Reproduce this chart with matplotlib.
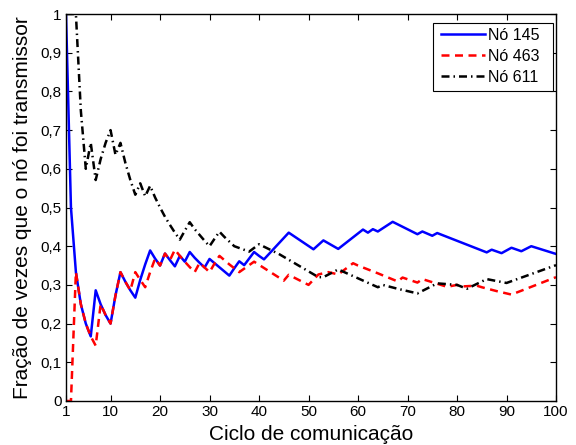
import matplotlib
matplotlib.use("Agg")
import matplotlib.pyplot as plt
from matplotlib.patches import Rectangle
from matplotlib.ticker import FixedLocator, FuncFormatter

plt.rcParams['font.family'] = ['Liberation Sans', 'DejaVu Sans']

# Nó 145
x145 = [1, 2, 3, 4, 5, 6, 7, 8, 9, 10, 11, 12, 13, 14, 15, 16, 17, 18, 19, 20,
        21, 22, 23, 24, 25, 26, 27, 28, 29, 30, 34, 35, 36, 37, 38, 39, 40, 41,
        46, 51, 53, 56, 61, 62, 63, 64, 67, 72, 73, 75, 76, 86, 87, 89, 91, 93, 95, 100]
y145 = [1.0, 0.5, 0.333, 0.25, 0.2, 0.167, 0.286, 0.25, 0.222, 0.2, 0.273, 0.333,
        0.308, 0.286, 0.267, 0.313, 0.353, 0.389, 0.368, 0.35, 0.381, 0.364, 0.348,
        0.375, 0.36, 0.385, 0.37, 0.357, 0.345, 0.367, 0.324, 0.343, 0.361, 0.351,
        0.368, 0.385, 0.375, 0.366, 0.435, 0.392, 0.415, 0.393, 0.443, 0.435, 0.444,
        0.438, 0.463, 0.431, 0.438, 0.427, 0.434, 0.384, 0.391, 0.382, 0.396, 0.387,
        0.4, 0.38]

# Nó 463
x463 = [1, 2, 3, 4, 5, 6, 7, 8, 9, 10, 11, 12, 13, 14, 15, 16, 17, 18, 19, 20,
        21, 22, 23, 24, 25, 26, 27, 28, 29, 30, 31, 32, 33, 34, 35, 36, 39, 45, 46,
        50, 52, 54, 56, 59, 60, 64, 68, 69, 72, 73, 77, 78, 80, 81, 84, 85, 88, 91, 100]
y463 = [0.0, 0.0, 0.333, 0.25, 0.2, 0.167, 0.143, 0.25, 0.222, 0.2, 0.273, 0.333,
        0.308, 0.286, 0.333, 0.313, 0.294, 0.333, 0.368, 0.35, 0.381, 0.364, 0.391,
        0.375, 0.36, 0.346, 0.333, 0.357, 0.345, 0.333, 0.355, 0.375, 0.364, 0.353,
        0.343, 0.333, 0.36, 0.311, 0.326, 0.3, 0.327, 0.333, 0.327, 0.356, 0.35,
        0.33, 0.309, 0.319, 0.306, 0.315, 0.299, 0.295, 0.3, 0.296, 0.298, 0.294,
        0.284, 0.275, 0.32]

# Nó 611
x611 = [1, 2, 3, 4, 5, 6, 7, 8, 9, 10, 11, 12, 13, 14, 15, 16, 17, 18, 19, 20,
        21, 22, 23, 24, 25, 26, 27, 28, 29, 30, 31, 32, 33, 34, 35, 38, 40, 44, 48,
        52, 53, 56, 60, 64, 65, 68, 72, 76, 80, 82, 86, 90, 100]
y611 = [1.0, 1.0, 1.0, 0.75, 0.6, 0.667, 0.571, 0.625, 0.667, 0.7, 0.636, 0.667,
        0.615, 0.571, 0.533, 0.5625, 0.529, 0.556, 0.526, 0.5, 0.476, 0.455, 0.435,
        0.417, 0.44, 0.462, 0.444, 0.429, 0.414, 0.4, 0.419, 0.4375, 0.424, 0.412,
        0.4, 0.386, 0.405, 0.38, 0.35, 0.32, 0.32, 0.34, 0.317, 0.294, 0.3, 0.29,
        0.278, 0.304, 0.3, 0.29, 0.315, 0.305, 0.351]

labels = ['Nó 145', 'Nó 463', 'Nó 611']
xticks = [1, 10, 20, 30, 40, 50, 60, 70, 80, 90, 100]
yticks = [0, 0.1, 0.2, 0.3, 0.4, 0.5, 0.6, 0.7, 0.8, 0.9, 1]

W, H = 576, 445
fig = plt.figure(figsize=(W / 100, H / 100), dpi=100)
ax = fig.add_axes([66 / W, 1 - 401 / H, 490 / W, 387 / H])

ax.plot(x145, y145, color=(0, 0, 1), lw=1.8, label=labels[0])
ax.plot(x463, y463, color=(1, 0, 0), lw=1.8, linestyle=(0, (3.2, 2.2)), label=labels[1])
ax.plot(x611, y611, color='black', lw=1.8, linestyle=(0, (3.2, 1.6, 0.6, 1.6)), label=labels[2])

ax.set_xlim(1, 100)
ax.set_ylim(0, 1)
ax.xaxis.set_major_locator(FixedLocator(xticks))
ax.yaxis.set_major_locator(FixedLocator(yticks))

def yfmt(v, pos):
    if abs(v) < 1e-9:
        return '0'
    if abs(v - 1) < 1e-9:
        return '1'
    return ('%.1f' % v).replace('.', ',')

ax.yaxis.set_major_formatter(FuncFormatter(yfmt))
ax.tick_params(direction='in', top=True, right=True, length=4, width=0.8,
               labelsize=11, pad=3)
for s in ax.spines.values():
    s.set_linewidth(1.0)

ax.set_xlabel('Ciclo de comunicação', fontsize=15, labelpad=4)
ax.set_ylabel('Fração de vezes que o nó foi transmissor', fontsize=15, labelpad=6)

# legend without its own frame; a MATLAB-like box (extra room on the right) is drawn behind it
leg = ax.legend(loc='upper right', bbox_to_anchor=(1 - 12 / 490, 1 - 9 / 387),
                fontsize=11.5, frameon=False, borderaxespad=0, handlelength=2.75,
                labelspacing=0.38, borderpad=0.3, handletextpad=0.2)
fig.canvas.draw()
bb = leg.get_window_extent()
inv = fig.transFigure.inverted()
(fx0, fy0) = inv.transform((bb.x0 - 3, bb.y0 - 1))
(fx1, fy1) = inv.transform((bb.x1 + 9, bb.y1))
box = Rectangle((fx0, fy0), fx1 - fx0, fy1 - fy0, transform=fig.transFigure,
                facecolor='white', edgecolor='black', lw=0.8, zorder=4.5, clip_on=False)
ax.add_patch(box)

fig.savefig('out.png', dpi=100)
